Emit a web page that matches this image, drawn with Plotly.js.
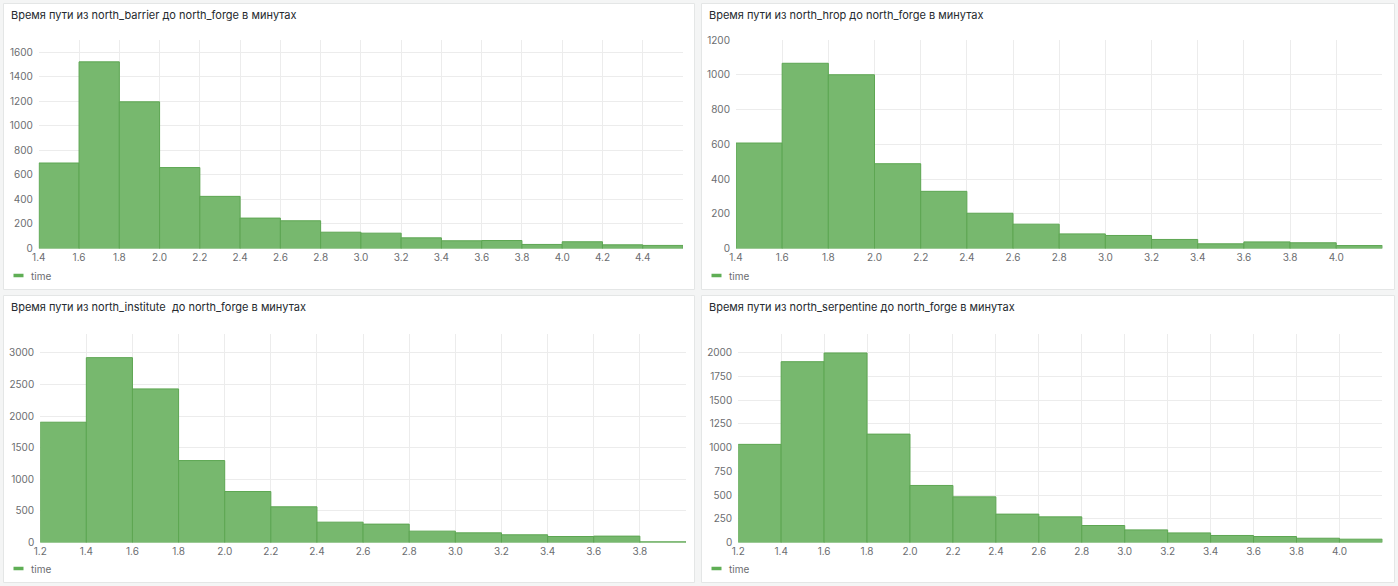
<!DOCTYPE html>
<html>
<head>
<meta charset="utf-8">
<script src="https://cdn.plot.ly/plotly-3.0.1.min.js"></script>
<style>
  html, body { margin: 0; padding: 0; background: #f4f5f5; }
  #dash { width: 1398px; height: 586px; }
</style>
</head>
<body>
<div id="dash"></div>
<script>
// Travel-time histograms (minutes), bin width 0.2
const barrierBins   = [1.4, 1.6, 1.8, 2.0, 2.2, 2.4, 2.6, 2.8, 3.0, 3.2, 3.4, 3.6, 3.8, 4.0, 4.2, 4.4];
const barrierCounts = [697, 1522, 1196, 660, 425, 248, 226, 133, 125, 87, 63, 65, 33, 55, 30, 25];

const hropBins   = [1.4, 1.6, 1.8, 2.0, 2.2, 2.4, 2.6, 2.8, 3.0, 3.2, 3.4, 3.6, 3.8, 4.0];
const hropCounts = [607, 1066, 1000, 488, 329, 203, 140, 84, 75, 52, 27, 38, 33, 17];

const instituteBins   = [1.2, 1.4, 1.6, 1.8, 2.0, 2.2, 2.4, 2.6, 2.8, 3.0, 3.2, 3.4, 3.6, 3.8];
const instituteCounts = [1904, 2926, 2431, 1297, 807, 565, 322, 291, 180, 153, 122, 95, 101, 11];

const serpentineBins   = [1.2, 1.4, 1.6, 1.8, 2.0, 2.2, 2.4, 2.6, 2.8, 3.0, 3.2, 3.4, 3.6, 3.8, 4.0];
const serpentineCounts = [1034, 1905, 1997, 1142, 601, 481, 299, 270, 179, 133, 101, 74, 63, 45, 35];

const barrierTicks    = [1.4, 1.6, 1.8, 2.0, 2.2, 2.4, 2.6, 2.8, 3.0, 3.2, 3.4, 3.6, 3.8, 4.0, 4.2, 4.4];
const hropTicks       = [1.4, 1.6, 1.8, 2.0, 2.2, 2.4, 2.6, 2.8, 3.0, 3.2, 3.4, 3.6, 3.8, 4.0];
const instituteTicks  = [1.2, 1.4, 1.6, 1.8, 2.0, 2.2, 2.4, 2.6, 2.8, 3.0, 3.2, 3.4, 3.6, 3.8];
const serpentineTicks = [1.2, 1.4, 1.6, 1.8, 2.0, 2.2, 2.4, 2.6, 2.8, 3.0, 3.2, 3.4, 3.6, 3.8, 4.0];

const panelTitles = [
  'Время пути из north_barrier до north_forge в минутах',
  'Время пути из north_hrop до north_forge в минутах',
  'Время пути из north_institute  до north_forge в минутах',
  'Время пути из north_serpentine до north_forge в минутах'
];
const seriesName = 'time';

const W = 1398, H = 586;
const px = v => v / W;
const py = v => 1 - v / H;

const BIN = 0.2;
const FILL = '#77b86e';
const EDGE = '#5da652';
const FONT = 'Inter, "Open Sans", sans-serif';

// panel boxes and plot areas (pixel geometry of the dashboard grid)
const panels = [
  { box: [3.5, 3.5, 694.5, 289.5],    plot: [38.8, 40, 683, 248.5],   xr: [1.4, 4.6], yr: [0, 1700], dy: 200, bins: barrierBins,    counts: barrierCounts,    ticks: barrierTicks },
  { box: [701.5, 3.5, 1394.5, 289.5], plot: [736, 40, 1382.4, 248.5], xr: [1.4, 4.2], yr: [0, 1200], dy: 200, bins: hropBins,       counts: hropCounts,       ticks: hropTicks },
  { box: [3.5, 295.5, 694.5, 582.5],  plot: [40.2, 333.7, 686, 542.5], xr: [1.2, 4.0], yr: [0, 3305], dy: 500, bins: instituteBins,  counts: instituteCounts,  ticks: instituteTicks },
  { box: [701.5, 295.5, 1394.5, 582.5], plot: [738.2, 333.7, 1382.4, 542.5], xr: [1.2, 4.2], yr: [0, 2200], dy: 250, bins: serpentineBins, counts: serpentineCounts, ticks: serpentineTicks }
];

const traces = [];
const layout = {
  width: W, height: H,
  margin: { l: 0, r: 0, t: 0, b: 0 },
  paper_bgcolor: '#f4f5f5',
  plot_bgcolor: 'rgba(0,0,0,0)',
  showlegend: false,
  bargap: 0,
  font: { family: FONT, size: 10, color: '#6b6d70' },
  shapes: [],
  annotations: []
};

panels.forEach((p, i) => {
  const n = i === 0 ? '' : String(i + 1);
  const xa = 'x' + n, ya = 'y' + n;

  traces.push({
    type: 'bar',
    name: seriesName,
    x: p.bins,
    y: p.counts,
    offset: 0,
    width: p.bins.map(() => BIN),
    xaxis: xa, yaxis: ya,
    marker: { color: FILL, line: { color: EDGE, width: 1 } },
    hoverinfo: 'x+y'
  });

  layout['xaxis' + n] = {
    domain: [px(p.plot[0]), px(p.plot[2])],
    anchor: ya,
    range: p.xr,
    tickmode: 'array',
    tickvals: p.ticks,
    tickformat: '.1f',
    showgrid: true,
    gridcolor: '#ececec',
    gridwidth: 1,
    zeroline: false,
    showline: false,
    ticks: '',
    ticklabelstandoff: 1,
    tickfont: { family: FONT, size: 10, color: '#6b6d70' },
    fixedrange: true
  };
  layout['yaxis' + n] = {
    domain: [py(p.plot[3]), py(p.plot[1])],
    anchor: xa,
    range: p.yr,
    dtick: p.dy,
    tick0: 0,
    showgrid: true,
    gridcolor: '#ececec',
    gridwidth: 1,
    zeroline: false,
    showline: false,
    ticks: '',
    ticklabelstandoff: 5,
    tickfont: { family: FONT, size: 10, color: '#6b6d70' },
    fixedrange: true
  };

  // panel card
  layout.shapes.push({
    type: 'rect', xref: 'paper', yref: 'paper', layer: 'below',
    x0: px(p.box[0]), x1: px(p.box[2]), y0: py(p.box[3]), y1: py(p.box[1]),
    fillcolor: '#ffffff', line: { color: '#e4e6e6', width: 1 }
  });

  // panel title
  layout.annotations.push({
    xref: 'paper', yref: 'paper',
    x: px(p.box[0] + 5), y: py(p.box[1] + 11.5),
    xanchor: 'left', yanchor: 'middle',
    text: panelTitles[i], showarrow: false,
    font: { family: FONT, size: 11, color: '#24292e', weight: 400 }
  });

  // series legend: short line swatch + label
  const ly = p.box[3] - 14;
  layout.shapes.push({
    type: 'line', xref: 'paper', yref: 'paper',
    x0: px(p.box[0] + 10), x1: px(p.box[0] + 20), y0: py(ly), y1: py(ly),
    line: { color: '#5fae55', width: 3.5 }
  });
  layout.annotations.push({
    xref: 'paper', yref: 'paper',
    x: px(p.box[0] + 25), y: py(ly),
    xanchor: 'left', yanchor: 'middle',
    text: seriesName, showarrow: false,
    font: { family: FONT, size: 10, color: '#6b6d70' }
  });
});

Plotly.newPlot('dash', traces, layout, { displayModeBar: false, staticPlot: true });
</script>
</body>
</html>
